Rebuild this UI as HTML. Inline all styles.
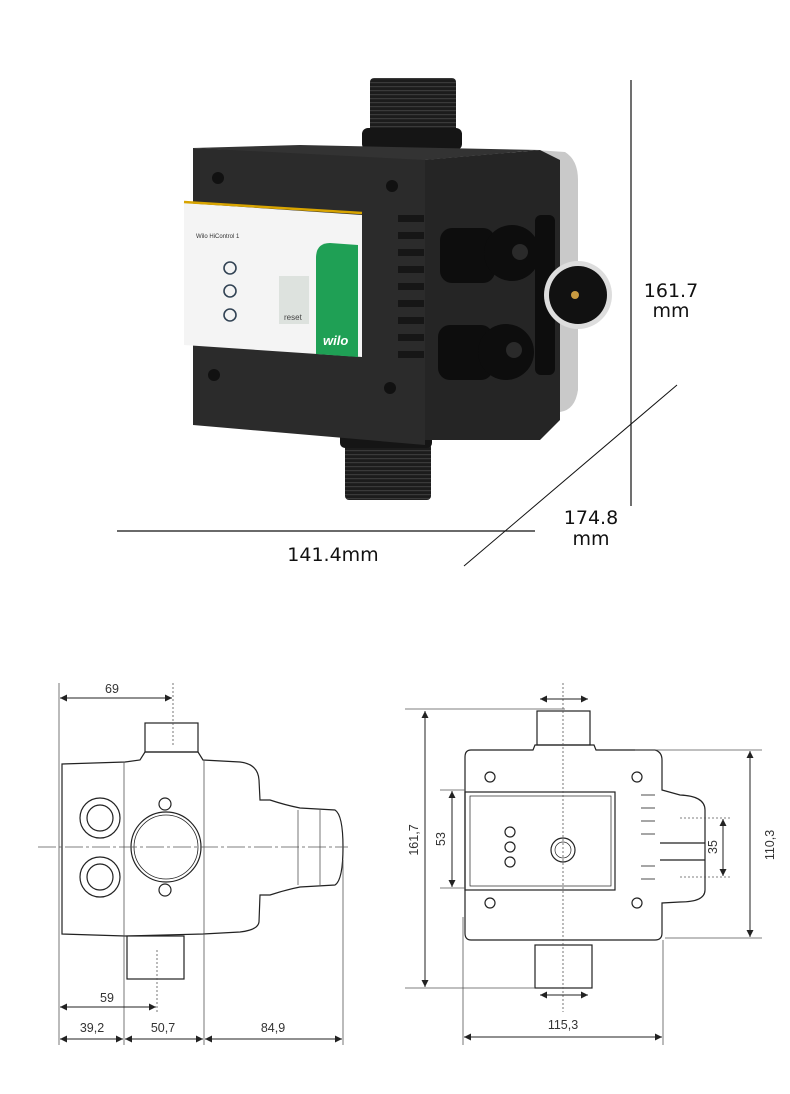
<!DOCTYPE html>
<html><head><meta charset="utf-8"><style>
html,body{margin:0;padding:0;background:#fff;}
svg{display:block;}
.t{font-family:"DejaVu Sans","Liberation Sans",sans-serif;fill:#111;}
.d{font-family:"Liberation Sans",sans-serif;fill:#333;font-size:12.5px;}
</style></head><body>
<svg width="790" height="1094" viewBox="0 0 790 1094" xmlns="http://www.w3.org/2000/svg">
<defs>
<marker id="a" viewBox="0 0 10 10" refX="10" refY="5" markerWidth="9" markerHeight="7" orient="auto-start-reverse" markerUnits="userSpaceOnUse"><path d="M0,0 L10,5 L0,10 z" fill="#222"/></marker>
<pattern id="th" width="6" height="4" patternUnits="userSpaceOnUse"><rect width="6" height="4" fill="#1c1c1c"/><rect y="2" width="6" height="1.2" fill="#3a3a3a"/></pattern>
</defs>
<!-- PHOTO -->
<rect x="370" y="78" width="86" height="56" rx="4" fill="url(#th)"/>
<rect x="362" y="128" width="100" height="22" rx="6" fill="#151515"/>
<rect x="345" y="438" width="86" height="62" rx="4" fill="url(#th)"/>
<rect x="340" y="428" width="92" height="20" rx="5" fill="#151515"/>
<path d="M535,150 L565,152 Q578,160 578,180 L578,390 Q575,410 560,412 L540,412 Z" fill="#c9c9c9"/>
<path d="M423,160 L540,150 L560,160 L560,420 L540,440 L423,440 Z" fill="#252525"/>
<path d="M193,148 L425,158 L425,445 L193,425 Z" fill="#2b2b2b"/>
<path d="M193,148 L300,145 L540,150 L425,160 Z" fill="#333"/>
<g fill="#161616"><rect x="398" y="215" width="26" height="7"/><rect x="398" y="232" width="26" height="7"/><rect x="398" y="249" width="26" height="7"/><rect x="398" y="266" width="26" height="7"/><rect x="398" y="283" width="26" height="7"/><rect x="398" y="300" width="26" height="7"/><rect x="398" y="317" width="26" height="7"/><rect x="398" y="334" width="26" height="7"/><rect x="398" y="351" width="26" height="7"/></g>
<g fill="#111"><circle cx="218" cy="178" r="6"/><circle cx="392" cy="186" r="6"/><circle cx="214" cy="375" r="6"/><circle cx="390" cy="388" r="6"/></g>
<path d="M184,203 L362,215 L362,357 L184,345 Z" fill="#f4f4f4"/>
<path d="M184,202 L362,213" stroke="#d8a400" stroke-width="2.5"/>
<path d="M330,243 L358,245 L358,357 L316,354 L316,258 Q316,243 330,243 Z" fill="#1fa055"/>
<text x="323" y="345" font-family="Liberation Sans,sans-serif" font-size="13" font-weight="bold" font-style="italic" fill="#fff">wilo</text>
<text x="196" y="238" font-family="Liberation Sans,sans-serif" font-size="6" fill="#333">Wilo HiControl 1</text>
<g fill="none" stroke="#345" stroke-width="1.6"><circle cx="230" cy="268" r="6"/><circle cx="230" cy="291" r="6"/><circle cx="230" cy="315" r="6"/></g>
<rect x="279" y="276" width="30" height="48" fill="#dde2de"/>
<text x="284" y="320" font-family="Liberation Sans,sans-serif" font-size="8" fill="#444">reset</text>
<g fill="#0d0d0d"><rect x="440" y="228" width="55" height="55" rx="12"/><circle cx="512" cy="253" r="28"/><rect x="438" y="325" width="55" height="55" rx="12"/><circle cx="506" cy="352" r="28"/><rect x="535" y="215" width="20" height="160" rx="6"/></g>
<circle cx="520" cy="252" r="8" fill="#2a2a2a"/><circle cx="514" cy="350" r="8" fill="#2a2a2a"/>
<circle cx="578" cy="295" r="34" fill="#ddd"/><circle cx="578" cy="295" r="29" fill="#111"/>
<circle cx="575" cy="295" r="4" fill="#c89a40"/>
<!-- photo dims -->
<g stroke="#111" stroke-width="1.2">
<line x1="631" y1="80" x2="631" y2="506"/>
<line x1="117" y1="531" x2="535" y2="531"/>
<line x1="677" y1="385" x2="464" y2="566" stroke-width="1"/>
</g>
<g class="t" font-size="19" text-anchor="middle">
<text x="671" y="297">161.7</text><text x="671" y="317">mm</text>
<text x="591" y="524">174.8</text><text x="591" y="545">mm</text>
<text x="333" y="561">141.4mm</text>
</g>
<!-- LEFT DRAWING -->
<g fill="none" stroke="#222" stroke-width="1.2">
<path d="M62,764 L125,762 L140,760 L145,752 L198,752 L203,760 L240,762 Q258,764 259,780 L260,800 L270,800 Q285,805 300,808 L335,810 Q343,815 343,847 Q343,880 335,885 L300,887 Q285,890 270,895 L260,895 L259,922 Q258,930 240,932 L203,934 L125,936 L62,934 Z"/>
<rect x="145" y="723" width="53" height="29"/>
<rect x="127" y="936" width="57" height="43"/>
<circle cx="166" cy="847" r="35"/><circle cx="166" cy="847" r="32" stroke-width="0.8"/>
<circle cx="100" cy="818" r="20"/><circle cx="100" cy="818" r="13"/>
<circle cx="100" cy="877" r="20"/><circle cx="100" cy="877" r="13"/>
<circle cx="165" cy="804" r="6"/><circle cx="165" cy="890" r="6"/>
</g>
<g stroke="#555" stroke-width="0.8" fill="none">
<line x1="124" y1="762" x2="124" y2="1045"/><line x1="204" y1="760" x2="204" y2="1045"/>
<line x1="298" y1="810" x2="298" y2="885"/><line x1="320" y1="810" x2="320" y2="885"/>
<line x1="59" y1="683" x2="59" y2="1045"/><line x1="343" y1="860" x2="343" y2="1045"/>
<line x1="38" y1="847" x2="348" y2="847" stroke-dasharray="18,3,3,3"/>
<line x1="173" y1="683" x2="173" y2="745" stroke-dasharray="2,2"/>
<line x1="157" y1="950" x2="157" y2="1012" stroke-dasharray="2,2"/>
</g>
<g stroke="#222" stroke-width="1" marker-start="url(#a)" marker-end="url(#a)">
<line x1="60" y1="698" x2="172" y2="698"/>
<line x1="60" y1="1007" x2="156" y2="1007"/>
<line x1="60" y1="1039" x2="123" y2="1039"/>
<line x1="125" y1="1039" x2="203" y2="1039"/>
<line x1="205" y1="1039" x2="342" y2="1039"/>
</g>
<g class="d" text-anchor="middle">
<text x="112" y="693">69</text><text x="107" y="1002">59</text>
<text x="92" y="1032">39,2</text><text x="163" y="1032">50,7</text><text x="273" y="1032">84,9</text>
</g>
<!-- RIGHT DRAWING -->
<g fill="none" stroke="#222" stroke-width="1.2">
<path d="M471,750 L533,750 L535,745 L594,745 L596,750 L655,750 Q662,752 662,760 L662,790 L680,795 Q705,796 705,810 L705,890 Q705,902 680,902 L662,903 L662,933 Q662,940 655,940 L471,940 Q465,940 465,933 L465,757 Q465,750 471,750 Z"/>
<rect x="537" y="711" width="53" height="34"/>
<rect x="535" y="945" width="57" height="43"/>
<rect x="465" y="792" width="150" height="98"/>
<rect x="470" y="796" width="141" height="90" stroke-width="0.7"/>
<circle cx="563" cy="850" r="12"/><circle cx="563" cy="850" r="8" stroke-width="0.7"/>
<circle cx="510" cy="832" r="5"/><circle cx="510" cy="847" r="5"/><circle cx="510" cy="862" r="5"/>
<circle cx="490" cy="777" r="5"/><circle cx="637" cy="777" r="5"/><circle cx="490" cy="903" r="5"/><circle cx="637" cy="903" r="5"/>
<line x1="660" y1="843" x2="705" y2="843"/><line x1="660" y1="860" x2="705" y2="860"/>
</g>
<g stroke="#222" stroke-width="0.8">
<line x1="641" y1="795" x2="655" y2="795"/><line x1="641" y1="808" x2="655" y2="808"/><line x1="641" y1="821" x2="655" y2="821"/><line x1="641" y1="834" x2="655" y2="834"/><line x1="641" y1="866" x2="655" y2="866"/><line x1="641" y1="879" x2="655" y2="879"/>
</g>
<g stroke="#555" stroke-width="0.8" fill="none">
<line x1="405" y1="709" x2="565" y2="709"/><line x1="405" y1="988" x2="535" y2="988"/>
<line x1="463" y1="917" x2="463" y2="1045"/><line x1="663" y1="940" x2="663" y2="1045"/>
<line x1="440" y1="790" x2="465" y2="790"/><line x1="440" y1="888" x2="465" y2="888"/>
<line x1="635" y1="750" x2="762" y2="750"/><line x1="665" y1="938" x2="762" y2="938"/>
<line x1="563" y1="683" x2="563" y2="1012" stroke-dasharray="2,2"/>
<line x1="680" y1="818" x2="730" y2="818" stroke-dasharray="2,2"/><line x1="680" y1="877" x2="730" y2="877" stroke-dasharray="2,2"/>
</g>
<g stroke="#222" stroke-width="1" marker-start="url(#a)" marker-end="url(#a)">
<line x1="425" y1="711" x2="425" y2="987"/>
<line x1="452" y1="791" x2="452" y2="887"/>
<line x1="723" y1="819" x2="723" y2="876"/>
<line x1="750" y1="751" x2="750" y2="937"/>
<line x1="464" y1="1037" x2="662" y2="1037"/>
<line x1="540" y1="699" x2="588" y2="699"/>
<line x1="540" y1="995" x2="588" y2="995"/>
</g>
<g class="d" text-anchor="middle">
<text x="563" y="1029">115,3</text>
<text transform="translate(418,840) rotate(-90)">161,7</text>
<text transform="translate(445,839) rotate(-90)">53</text>
<text transform="translate(717,847) rotate(-90)">35</text>
<text transform="translate(774,845) rotate(-90)">110,3</text>
</g>
</svg>
</body></html>
